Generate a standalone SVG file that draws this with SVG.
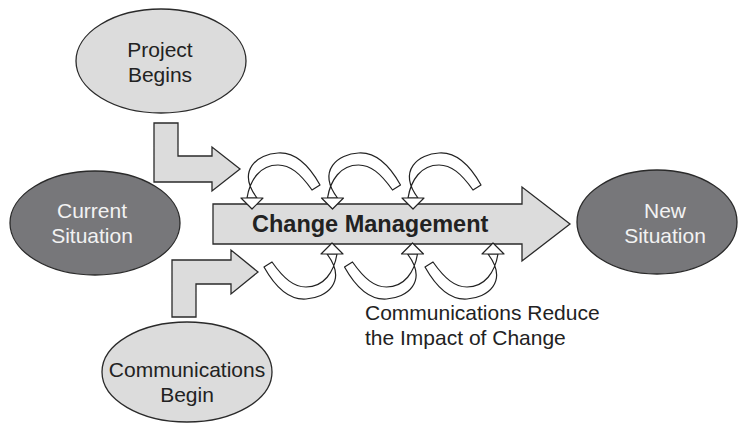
<svg xmlns="http://www.w3.org/2000/svg" xmlns:xlink="http://www.w3.org/1999/xlink" width="738" height="423" viewBox="0 0 738 423">
<style>
.light{fill:#dcdcdc;stroke:#2a2a2a;stroke-width:1.3}
.dark{fill:#77777a;stroke:#2a2a2a;stroke-width:1.3}
.blk{fill:#dcdcdc;stroke:#2a2a2a;stroke-width:1.3;stroke-linejoin:miter}
.loop{fill:#fff;stroke:#222;stroke-width:1.2;stroke-linejoin:round}
.t{font-family:"Liberation Sans",Arial,Helvetica,sans-serif;font-size:21px;text-anchor:middle}
.td{fill:#222}
.tl{fill:#f2f2f2}
.cap{font-family:"Liberation Sans",Arial,Helvetica,sans-serif;font-size:21px;fill:#222}
.main{font-family:"Liberation Sans",Arial,Helvetica,sans-serif;font-size:23.5px;font-weight:bold;fill:#222}
</style>
<defs>
<g id="loop">
<path class="loop" d="M 320 185 C 306 160 292 152 278 153 C 258 154 236 170 257 198 L 247 198 C 250 180 260 165 278 165 C 290 165 300 173 312 190 Z"/>
<polygon class="loop" points="241,198 263,198 252,209"/>
</g>
</defs>
<rect width="738" height="423" fill="#fff"/>
<g id="node-project-begins">
<ellipse class="light" cx="161" cy="61" rx="85" ry="52"/>
<text class="t td" x="160" y="57">Project</text>
<text class="t td" x="160" y="82">Begins</text>
</g>
<g id="node-current-situation">
<ellipse class="dark" cx="95" cy="223" rx="85" ry="52"/>
<text class="t tl" x="92" y="218">Current</text>
<text class="t tl" x="92" y="243">Situation</text>
</g>
<g id="node-new-situation">
<ellipse class="dark" cx="657" cy="222" rx="80" ry="52"/>
<text class="t tl" x="665" y="218">New</text>
<text class="t tl" x="665" y="243">Situation</text>
</g>
<g id="node-communications-begin">
<ellipse class="light" cx="187" cy="372" rx="85" ry="50"/>
<text class="t td" x="187" y="377">Communications</text>
<text class="t td" x="187" y="402">Begin</text>
</g>
<g id="node-change-management">
<polygon class="blk" points="213,204 522,204 522,187 570,224 522,261 522,244 213,244"/>
<text class="main" x="252" y="232">Change Management</text>
</g>
<g id="connectors">
<polygon class="blk" points="154,123 178,123 178,156 212,156 212,147 240,169 212,191 212,182 154,182"/>
<polygon class="blk" points="172,317 196,317 196,284 231,284 231,294 258,272 231,250 231,260 172,260"/>
<use xlink:href="#loop"/>
<use xlink:href="#loop" transform="translate(80.5 0)"/>
<use xlink:href="#loop" transform="translate(161 0)"/>
<use xlink:href="#loop" transform="rotate(180 292 226)"/>
<use xlink:href="#loop" transform="translate(80.5 0) rotate(180 292 226)"/>
<use xlink:href="#loop" transform="translate(161 0) rotate(180 292 226)"/>
</g>
<g id="caption">
<text class="cap" x="365" y="320">Communications Reduce</text>
<text class="cap" x="365" y="345">the Impact of Change</text>
</g>
</svg>
